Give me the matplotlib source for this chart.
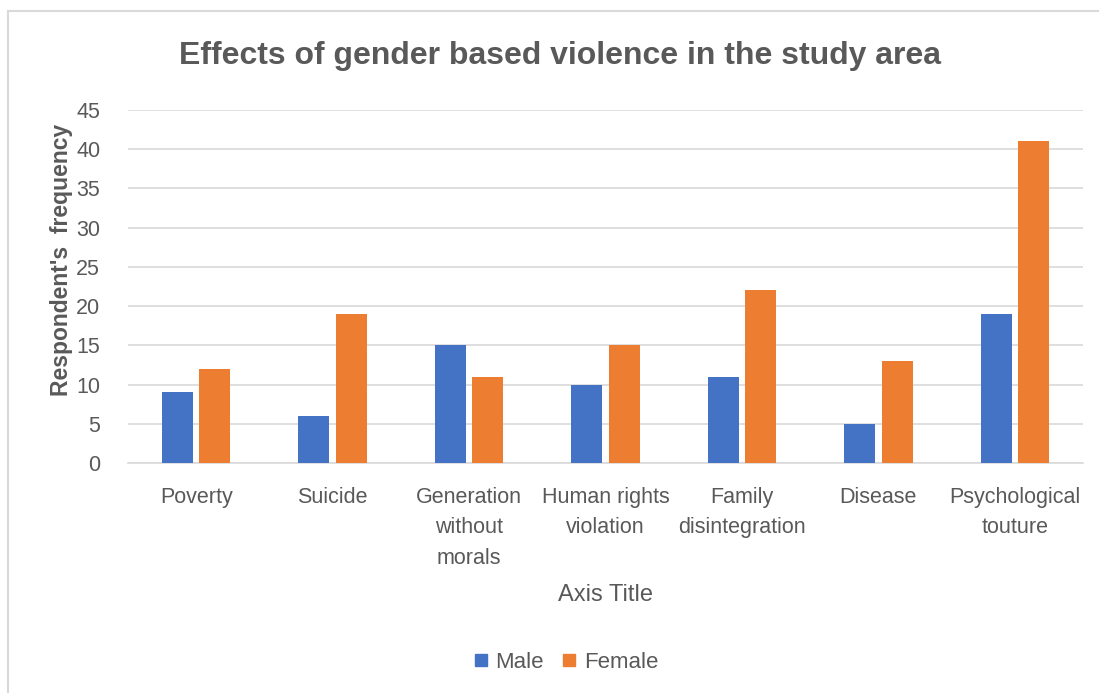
import numpy as np
import matplotlib.pyplot as plt
from matplotlib.lines import Line2D

categories = ['Poverty', 'Suicide', 'Generation\nwithout\nmorals', 'Human rights\nviolation',
              'Family\ndisintegration', 'Disease', 'Psychological\ntouture']
male = [9, 6, 15, 10, 11, 5, 19]
female = [12, 19, 11, 15, 22, 13, 41]

blue = '#4472c4'
orange = '#ed7d31'
grey = '#595959'

plt.rcParams['font.family'] = ['Liberation Sans', 'DejaVu Sans']

fig = plt.figure(figsize=(10.99, 6.93), dpi=100)
ax = fig.add_axes([128/1099, 1-463/693, (1083-128)/1099, (463-110)/693])

x = np.arange(len(categories))
w = 0.227
off = 0.137
ax.bar(x - off, male, w, color=blue, label='Male', zorder=3)
ax.bar(x + off, female, w, color=orange, label='Female', zorder=3)

ax.set_xlim(-0.5, len(categories) - 0.5)
ax.set_ylim(0, 45)
ax.set_yticks(range(0, 46, 5))
ax.yaxis.grid(True, color='#d9d9d9', linewidth=1.2, zorder=0)
ax.set_axisbelow(True)
for s in ['top', 'right', 'left']:
    ax.spines[s].set_visible(False)
ax.spines['bottom'].set_color('#d9d9d9')
ax.spines['bottom'].set_linewidth(1.2)
ax.tick_params(axis='both', length=0, colors=grey, labelsize=15.5)
ax.tick_params(axis='x', pad=17)
ax.tick_params(axis='y', pad=20)
ax.set_xticks(x)
ax.set_xticklabels(categories, linespacing=1.6)

ax.set_ylabel("Respondent's  frequency", fontsize=16.5, fontweight='bold', color=grey)
ax.yaxis.set_label_coords(-0.058, 0.575)
ax.set_xlabel('Axis Title', fontsize=17, color=grey, labelpad=11)

fig.text(560/1099, 1-56/693, 'Effects of gender based violence in the study area',
         ha='center', va='center', fontsize=23, fontweight='bold', color=grey)

handles = [Line2D([], [], marker='s', linestyle='', markersize=9, color=blue),
           Line2D([], [], marker='s', linestyle='', markersize=9, color=orange)]
fig.legend(handles, ['Male', 'Female'], loc='center', bbox_to_anchor=(565/1099, 1-662/693),
           ncol=2, frameon=False, fontsize=16, labelcolor=grey, handletextpad=0.25,
           columnspacing=0.75, handlelength=0.8)

# chart border (left and top edges visible)
fig.add_artist(Line2D([8/1099, 8/1099], [0, 1-11/693], color='#d9d9d9', linewidth=1.5,
                      transform=fig.transFigure))
fig.add_artist(Line2D([8/1099, 1], [1-11/693, 1-11/693], color='#d9d9d9', linewidth=1.5,
                      transform=fig.transFigure))

fig.savefig('out.png', dpi=100)
